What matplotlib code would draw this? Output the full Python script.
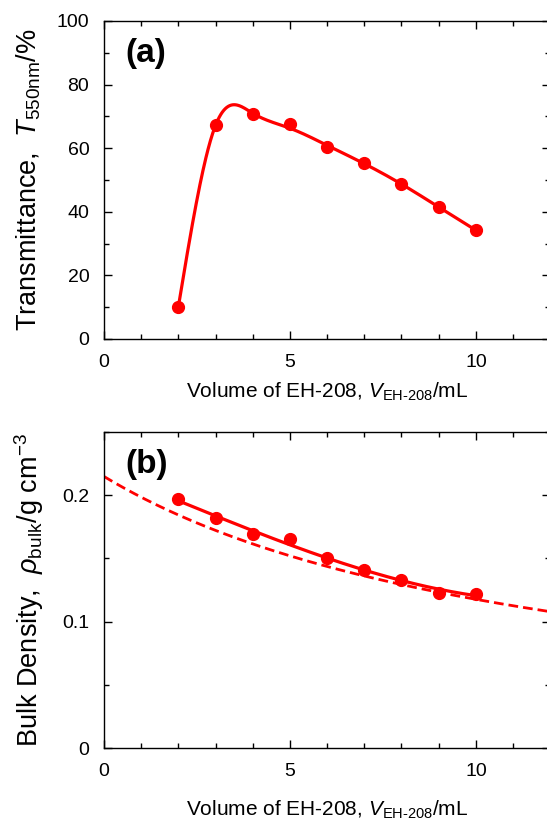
import numpy as np
import matplotlib
matplotlib.use("Agg")
import matplotlib.pyplot as plt
from matplotlib.ticker import MultipleLocator

plt.rcParams['font.family'] = ['Liberation Sans', 'DejaVu Sans']
plt.rcParams['mathtext.fontset'] = 'custom'
plt.rcParams['mathtext.rm'] = 'Liberation Sans'
plt.rcParams['mathtext.it'] = 'Liberation Sans:italic'
plt.rcParams['mathtext.bf'] = 'Liberation Sans:bold'

# data
vol = np.array([2, 3, 4, 5, 6, 7, 8, 9, 10], dtype=float)
trans = np.array([10.0, 67.3, 70.7, 67.5, 60.5, 55.2, 48.8, 41.4, 34.2])
dens = np.array([0.197, 0.182, 0.169, 0.165, 0.150, 0.141, 0.133, 0.123, 0.122])

# dashed model curve, rho = m / (V0 + V)
model_m = 2.60
model_v0 = 12.1

RED = '#ff0000'


# natural cubic spline from knot values y and second derivatives M
def eval_spline(x, y, M, xs):
    n = len(x)
    h = np.diff(x)
    out = np.empty_like(xs)
    for k, t in enumerate(xs):
        i = int(np.clip(np.searchsorted(x, t) - 1, 0, n - 2))
        a = x[i + 1] - t
        b = t - x[i]
        out[k] = (M[i] * a**3 + M[i + 1] * b**3) / (6 * h[i]) \
            + (y[i] / h[i] - M[i] * h[i] / 6) * a \
            + (y[i + 1] / h[i] - M[i + 1] * h[i] / 6) * b
    return out


# weighted smoothing spline (Reinsch)
def smooth_spline(x, y, w, lam, xs):
    n = len(x)
    h = np.diff(x)
    Q = np.zeros((n, n - 2))
    R = np.zeros((n - 2, n - 2))
    for j in range(1, n - 1):
        Q[j - 1, j - 1] = 1 / h[j - 1]
        Q[j, j - 1] = -1 / h[j - 1] - 1 / h[j]
        Q[j + 1, j - 1] = 1 / h[j]
        R[j - 1, j - 1] = (h[j - 1] + h[j]) / 3
        if j < n - 2:
            R[j - 1, j] = h[j] / 6
            R[j, j - 1] = h[j] / 6
    Winv = np.diag(1 / np.asarray(w, dtype=float))
    gam = np.linalg.solve(R + lam * Q.T @ Winv @ Q, Q.T @ y)
    g = y - lam * Winv @ Q @ gam
    M = np.concatenate([[0], gam, [0]])
    return eval_spline(x, g, M, xs)


def style(ax):
    ax.tick_params(which='both', direction='in', top=True, right=True,
                   labelsize=14, width=1.0, pad=10.5)
    ax.tick_params(which='major', length=6)
    ax.tick_params(which='minor', length=3.5)
    for s in ax.spines.values():
        s.set_linewidth(1.0)
    ax.xaxis.set_major_locator(MultipleLocator(5))
    ax.xaxis.set_minor_locator(MultipleLocator(1))


fig = plt.figure(figsize=(5.47, 8.22), dpi=100)
ax1 = fig.add_axes([0.190, 0.5876, 0.816, 0.3869])
ax2 = fig.add_axes([0.190, 0.0900, 0.816, 0.3844])

xs = np.linspace(2, 10, 400)
xlab = 'Volume of EH-208, $\\mathit{V}_{\\mathrm{EH\\text{-}208}}$/mL'

# (a) transmittance
wa = [100, 100, 30, 1, 1, 1, 1, 1, 1]
ax1.plot(xs, smooth_spline(vol, trans, wa, 0.08, xs), color=RED, lw=2.3)
ax1.plot(vol, trans, 'o', color=RED, ms=8.5)
ax1.set_xlim(0, 12)
ax1.set_ylim(0, 100)
ax1.yaxis.set_major_locator(MultipleLocator(20))
ax1.yaxis.set_minor_locator(MultipleLocator(10))
style(ax1)
ax1.set_xlabel(xlab, fontsize=15, labelpad=7)
ax1.set_ylabel('Transmittance,  $\\mathit{T}_{\\mathrm{550nm}}$/%', fontsize=19.5)
ax1.yaxis.set_label_coords(-0.137, 0.5)
ax1.text(0.047, 0.945, '(a)', transform=ax1.transAxes, fontsize=24,
         fontweight='bold', va='top', ha='left')

# (b) bulk density
p = np.polyfit(vol, dens, 3)
ax2.plot(xs, np.polyval(p, xs), color=RED, lw=2.3)
xm = np.linspace(0, 12, 400)
ax2.plot(xm, model_m / (model_v0 + xm), color=RED, lw=2.0, dashes=(3.5, 1.8))
ax2.plot(vol, dens, 'o', color=RED, ms=8.5)
ax2.set_xlim(0, 12)
ax2.set_ylim(0, 0.25)
ax2.yaxis.set_major_locator(MultipleLocator(0.1))
ax2.yaxis.set_minor_locator(MultipleLocator(0.05))
ax2.set_yticks([0, 0.1, 0.2])
ax2.set_yticklabels(['0', '0.1', '0.2'])
style(ax2)
ax2.set_xlabel(xlab, fontsize=15, labelpad=14)
ax2.set_ylabel('Bulk Density,  $\\mathit{\\rho}_{\\mathrm{bulk}}$/g cm$^{-3}$', fontsize=19.5)
ax2.yaxis.set_label_coords(-0.13, 0.5)
ax2.text(0.047, 0.945, '(b)', transform=ax2.transAxes, fontsize=24,
         fontweight='bold', va='top', ha='left')

fig.savefig('out.png', dpi=100)
